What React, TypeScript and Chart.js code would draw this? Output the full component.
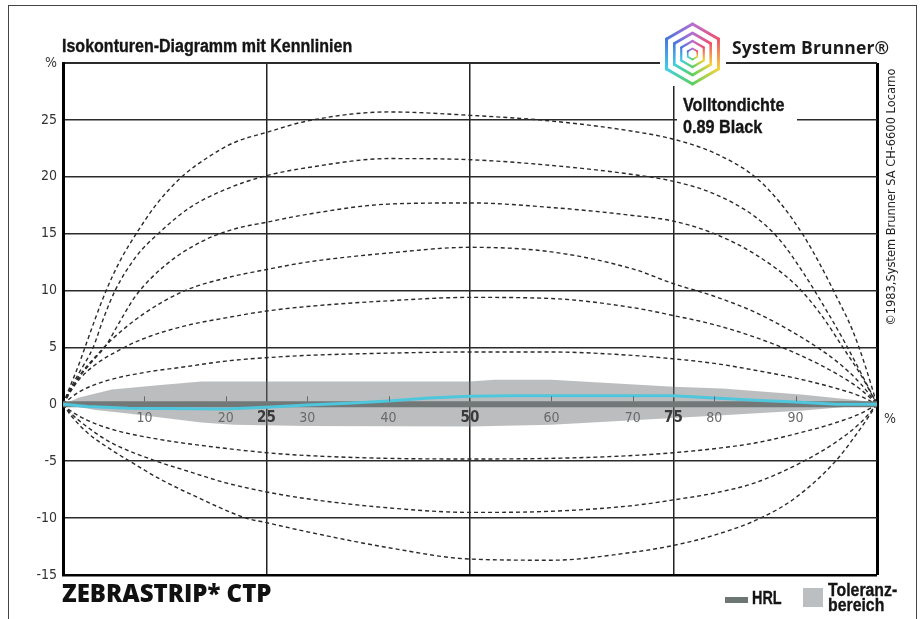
import React, { useEffect, useRef } from 'react';
import { Chart, registerables } from 'chart.js';

Chart.register(...registerables);

type P = [number, number];

// ---- axis definitions ----
const yMin = -15;
const yMax = 30;
const yStep = 5;
const xMin = 0;
const xMax = 100;
const xGridValues = [0, 25, 50, 75, 100];
const xTickValues = [10, 20, 25, 30, 40, 50, 60, 70, 75, 80, 90];
const xTickLabels = ['10', '20', '25', '30', '40', '50', '60', '70', '75', '80', '90'];
const xBoldTicks = [25, 50, 75];

// ---- isocontour curves (dashed) ----
const upper1: P[] = [[0, 0], [1, 0.6], [2, 1.1], [5, 2.0], [10, 2.8], [15, 3.3], [20, 3.8], [25, 4.1], [30, 4.3], [40, 4.5], [50, 4.6], [60, 4.6], [70, 4.3], [75, 4.0], [80, 3.6], [85, 3.0], [90, 2.3], [95, 1.4], [98, 0.7], [100, 0]];
const upper2: P[] = [[0, 0], [1, 1.2], [2, 2.2], [4, 3.5], [7, 4.8], [10, 5.8], [15, 6.9], [20, 7.6], [25, 8.2], [30, 8.6], [40, 9.1], [50, 9.4], [60, 9.3], [70, 8.5], [75, 7.8], [80, 7.0], [85, 5.9], [90, 4.5], [95, 2.7], [98, 1.3], [100, 0]];
const upper3: P[] = [[0, 0], [1, 1.3], [2, 2.5], [4, 4.2], [6, 5.7], [10, 8.0], [15, 10.0], [20, 11.1], [25, 11.85], [30, 12.5], [40, 13.3], [50, 13.8], [60, 13.4], [70, 11.9], [75, 10.6], [80, 9.5], [85, 8.1], [90, 6.2], [95, 3.8], [98, 1.8], [100, 0]];
const upper4: P[] = [[0, 0], [1, 1.3], [2, 2.4], [3.5, 3.7], [5.3, 5.2], [7, 7.3], [9, 9.6], [12.7, 12.3], [17, 14.3], [21, 15.4], [25, 16.0], [30, 16.7], [40, 17.6], [50, 17.7], [60, 17.3], [70, 16.6], [75, 16.1], [80, 15.0], [85, 13.2], [90, 10.5], [93, 8.0], [96, 4.8], [98, 2.6], [100, 0]];
const upper5: P[] = [[0, 0], [1, 1.5], [2, 2.8], [3.7, 5.0], [5, 7.6], [6.4, 10.0], [9, 13.0], [11.7, 15.0], [15.6, 17.3], [20, 18.9], [25, 20.1], [30, 20.8], [40, 21.6], [50, 21.5], [60, 21.0], [70, 20.2], [75, 19.6], [80, 18.5], [85, 16.5], [88, 14.5], [91, 11.5], [94, 8.0], [96, 5.5], [98, 2.8], [100, 0]];
const upper6: P[] = [[0, 0], [1, 1.8], [2, 3.6], [2.7, 5.0], [4, 7.6], [5.3, 10.0], [7, 12.6], [9, 15.0], [11.5, 17.6], [14.6, 20.0], [18, 21.8], [21, 23.0], [25, 23.9], [30, 24.9], [40, 25.7], [50, 25.4], [60, 24.9], [70, 24.0], [75, 23.3], [80, 22.1], [85, 20.0], [88, 17.8], [91, 14.8], [93, 12.3], [95, 9.5], [97, 6.5], [98.5, 3.5], [100, 0]];
const lower1: P[] = [[0, 0], [1, -0.6], [3, -1.4], [6, -2.2], [12, -3.1], [18, -3.7], [25, -4.25], [30, -4.5], [40, -4.75], [50, -4.8], [60, -4.75], [70, -4.5], [75, -4.25], [80, -3.9], [85, -3.4], [90, -2.6], [95, -1.6], [98, -0.8], [100, 0]];
const lower2: P[] = [[0, 0], [1, -0.8], [3, -2.0], [6, -3.4], [11.5, -5.0], [15, -5.8], [20, -6.9], [25, -7.7], [30, -8.3], [40, -9.1], [50, -9.5], [60, -9.4], [70, -8.9], [75, -8.4], [80, -7.8], [85, -6.9], [91, -5.0], [95, -3.3], [98, -1.6], [100, 0]];
const lower3: P[] = [[0, 0], [1, -1.0], [3, -2.5], [5.5, -3.8], [8.2, -5.0], [12, -6.6], [16, -8.0], [22.5, -10.0], [25, -10.4], [30, -11.2], [40, -12.6], [50, -13.6], [60, -13.7], [70, -13.0], [75, -12.4], [80, -11.5], [85.7, -10.0], [90, -8.2], [94.9, -5.0], [97.5, -2.6], [100, 0]];

// ---- tolerance band, HRL and measured curve ----
const toleranceUpper: P[] = [[0, 0], [2, 0.6], [6, 1.3], [12, 1.7], [17, 2.0], [50, 2.0], [53, 2.15], [60, 2.15], [75, 1.55], [81, 1.4], [91, 0.85], [99, 0.25], [100, 0]];
const toleranceLower: P[] = [[0, 0], [4, -0.5], [8, -0.8], [17, -1.6], [21, -1.8], [30, -1.9], [50, -1.95], [60, -1.8], [70, -1.4], [75, -1.2], [81, -0.95], [91, -0.55], [100, 0]];
const hrl: P[] = [[0, 0], [100, 0]];
const measured: P[] = [[0, 0], [3, -0.2], [8, -0.35], [20, -0.42], [25, -0.25], [30, -0.05], [35, 0.1], [40, 0.3], [45, 0.55], [50, 0.7], [55, 0.75], [75, 0.75], [80, 0.55], [85, 0.35], [90, 0.2], [95, 0.0], [100, 0]];

const contourCurves: P[][] = [upper1, upper2, upper3, upper4, upper5, upper6, lower1, lower2, lower3];

const NARROW = '"Liberation Sans", Arial, sans-serif';
const AXISFONT = '"DejaVu Sans Condensed", "DejaVu Sans", sans-serif';
const BRAND = '"Open Sans", "DejaVu Sans", sans-serif';

const toPts = (a: P[]) => a.map(([x, y]) => ({ x, y }));

const xLabelPlugin = {
  id: 'xLabels',
  afterDatasetsDraw(chart: any) {
    const { ctx, scales } = chart;
    const xs = scales.x;
    const ys = scales.y;
    const y0 = ys.getPixelForValue(0);
    ctx.save();
    ctx.strokeStyle = '#666';
    ctx.lineWidth = 1;
    xTickValues.forEach((v) => {
      if (xBoldTicks.includes(v)) return;
      const px = Math.round(xs.getPixelForValue(v)) + 0.5;
      ctx.beginPath();
      ctx.moveTo(px, y0 - 8);
      ctx.lineTo(px, y0 - 3);
      ctx.stroke();
    });
    ctx.textAlign = 'center';
    ctx.textBaseline = 'middle';
    xTickValues.forEach((v, i) => {
      const bold = xBoldTicks.includes(v);
      ctx.font = (bold ? 'bold 15px ' : '14px ') + AXISFONT;
      ctx.fillStyle = bold ? '#3a3a3a' : '#6a6a6a';
      ctx.fillText(xTickLabels[i], xs.getPixelForValue(v), y0 + 14);
    });
    ctx.font = '14px ' + AXISFONT;
    ctx.fillStyle = '#333';
    ctx.fillText('%', xs.getPixelForValue(xMax) + 13, y0 + 15);
    ctx.restore();
  },
};

// logo geometry helpers
const hexColors = ['#b56fd2', '#f0506a', '#f3d43c', '#5ccf5c', '#3fcfe6', '#4a76e0'];
const hexRings = [
  { r: 30, w: 3 },
  { r: 21, w: 2.6 },
  { r: 13, w: 2.2 },
  { r: 5.5, w: 1.6 },
];

function Logo() {
  const cx = 32.5;
  const cy = 36;
  const verts = (r: number) =>
    [0, 1, 2, 3, 4, 5].map((i) => {
      const a = (-90 + i * 60) * (Math.PI / 180);
      return [cx + r * Math.cos(a), cy + r * Math.sin(a)];
    });
  const defs: any[] = [];
  const lines: any[] = [];
  hexRings.forEach((ring, ri) => {
    const v = verts(ring.r);
    for (let i = 0; i < 6; i++) {
      const a = v[i];
      const b = v[(i + 1) % 6];
      const id = `hg${ri}_${i}`;
      defs.push(
        <linearGradient key={id} id={id} gradientUnits="userSpaceOnUse" x1={a[0]} y1={a[1]} x2={b[0]} y2={b[1]}>
          <stop offset="0" stopColor={hexColors[i]} />
          <stop offset="1" stopColor={hexColors[(i + 1) % 6]} />
        </linearGradient>
      );
      lines.push(
        <line key={'l' + id} x1={a[0]} y1={a[1]} x2={b[0]} y2={b[1]} stroke={`url(#${id})`} strokeWidth={ring.w} strokeLinecap="round" />
      );
    }
  });
  return (
    <svg width={66} height={68} style={{ position: 'absolute', left: 660, top: 18, background: '#fff' }}>
      <defs>{defs}</defs>
      {lines}
    </svg>
  );
}

function Narrow(props: { left: number; top: number; size: number; lh: number; k: number; children: any }) {
  return (
    <div
      style={{
        position: 'absolute',
        left: props.left,
        top: props.top,
        whiteSpace: 'nowrap',
        color: '#151515',
        fontFamily: NARROW,
        fontWeight: 700,
        fontSize: props.size,
        lineHeight: props.lh + 'px',
        transform: `scaleX(${props.k})`,
        transformOrigin: 'left top',
        WebkitTextStroke: '0.35px #151515',
      }}
    >
      {props.children}
    </div>
  );
}

export default function App() {
  const ref = useRef<HTMLCanvasElement>(null);
  useEffect(() => {
    const datasets: any[] = [
      {
        label: 'Messkurve',
        data: toPts(measured),
        borderColor: '#4fc6dc',
        borderWidth: 3,
        pointRadius: 0,
        tension: 0,
        fill: false,
        order: 0,
      },
      {
        label: 'HRL',
        data: toPts(hrl),
        borderColor: '#727878',
        borderWidth: 6,
        pointRadius: 0,
        fill: false,
        order: 1,
      },
      ...contourCurves.map((c, i) => ({
        label: 'Isokontur ' + (i + 1),
        data: toPts(c),
        borderColor: '#2a2a2a',
        borderWidth: 1.4,
        borderDash: [4, 3],
        pointRadius: 0,
        cubicInterpolationMode: 'monotone',
        fill: false,
        order: 2,
      })),
      {
        label: 'Toleranzbereich',
        data: toPts(toleranceUpper),
        borderWidth: 0,
        borderColor: 'rgba(0,0,0,0)',
        backgroundColor: 'rgba(110,115,120,0.47)',
        pointRadius: 0,
        tension: 0,
        fill: '+1',
        order: 3,
      },
      {
        label: 'Toleranz unten',
        data: toPts(toleranceLower),
        borderWidth: 0,
        borderColor: 'rgba(0,0,0,0)',
        pointRadius: 0,
        tension: 0,
        fill: false,
        order: 3,
      },
    ];

    const chart = new Chart(ref.current as HTMLCanvasElement, {
      type: 'line',
      data: { datasets },
      options: {
        animation: false,
        responsive: false,
        events: [],
        layout: { padding: { left: 0, top: 63, right: 47, bottom: 44 } },
        plugins: { legend: { display: false }, tooltip: { enabled: false } },
        scales: {
          x: {
            type: 'linear',
            min: xMin,
            max: xMax,
            afterBuildTicks: (s: any) => {
              s.ticks = xGridValues.map((v) => ({ value: v }));
            },
            afterFit: (s: any) => {
              s.height = 0;
            },
            ticks: { display: false },
            border: { display: false },
            grid: {
              drawTicks: false,
              color: (c: any) => (c.tick && c.tick.value === xMax ? '#000' : '#222'),
              lineWidth: (c: any) => (c.tick && c.tick.value === xMax ? 3 : 1.5),
            },
          },
          y: {
            type: 'linear',
            min: yMin,
            max: yMax,
            afterFit: (s: any) => {
              s.width = 63;
            },
            ticks: {
              stepSize: yStep,
              padding: 6,
              color: '#333',
              font: { family: AXISFONT, size: 14 },
              callback: (v: any) => (v === yMax ? '%' : String(v)),
            },
            border: { display: true, color: '#000', width: 3 },
            grid: {
              drawTicks: false,
              color: (c: any) => (c.tick && c.tick.value === yMin ? '#000' : '#2b2b2b'),
              lineWidth: (c: any) =>
                c.tick && c.tick.value === yMin ? 2.5 : c.tick && c.tick.value === yMax ? 2 : 1.6,
            },
          },
        },
      },
      plugins: [xLabelPlugin],
    } as any);
    return () => chart.destroy();
  }, []);

  return (
    <div style={{ position: 'absolute', left: 0, top: 0, width: 924, height: 619, background: '#fff', overflow: 'hidden' }}>
      <canvas ref={ref} width={924} height={619} style={{ position: 'absolute', left: 0, top: 0, width: 924, height: 619 }} />
      {/* outer frame */}
      <div style={{ position: 'absolute', left: 8, top: 5, width: 907, height: 700, borderLeft: '1.5px solid #444', borderTop: '1.5px solid #444', borderRight: '1.5px solid #444' }} />
      {/* title */}
      <Narrow left={62} top={35.5} size={18} lh={20} k={0.89}>
        Isokonturen-Diagramm mit Kennlinien
      </Narrow>
      <Logo />
      <div style={{ position: 'absolute', whiteSpace: 'nowrap', color: '#1a1a1a', left: 732, top: 37, fontFamily: BRAND, fontWeight: 700, fontSize: 17.5, lineHeight: '20px', letterSpacing: '0.15px' }}>
        System Brunner®
      </div>
      {/* density box */}
      <div style={{ position: 'absolute', left: 677, top: 88, width: 120, height: 48, background: '#fff' }} />
      <Narrow left={683} top={95} size={18} lh={21.5} k={0.9}>
        Volltondichte
        <br />
        0.89 Black
      </Narrow>
      {/* copyright vertical */}
      <div
        style={{
          position: 'absolute',
          whiteSpace: 'nowrap',
          left: 891,
          top: 197,
          transform: 'translate(-50%, -50%) rotate(-90deg)',
          fontFamily: AXISFONT,
          fontSize: 12.7,
          lineHeight: '14px',
          color: '#222',
        }}
      >
        ©1983,System Brunner SA CH-6600 Locarno
      </div>
      {/* product name */}
      <div style={{ position: 'absolute', whiteSpace: 'nowrap', left: 62, top: 578.5, fontFamily: BRAND, fontWeight: 800, fontSize: 24, lineHeight: '28px', color: '#111' }}>
        ZEBRASTRIP* CTP
      </div>
      {/* legend */}
      <div style={{ position: 'absolute', left: 725, top: 597, width: 23, height: 6, background: '#6e7575' }} />
      <Narrow left={752} top={588} size={18} lh={20} k={0.8}>
        HRL
      </Narrow>
      <div style={{ position: 'absolute', left: 803, top: 588, width: 20, height: 19, background: '#bcbfc1' }} />
      <Narrow left={828} top={582.5} size={18} lh={15} k={0.88}>
        Toleranz-
        <br />
        bereich
      </Narrow>
    </div>
  );
}
